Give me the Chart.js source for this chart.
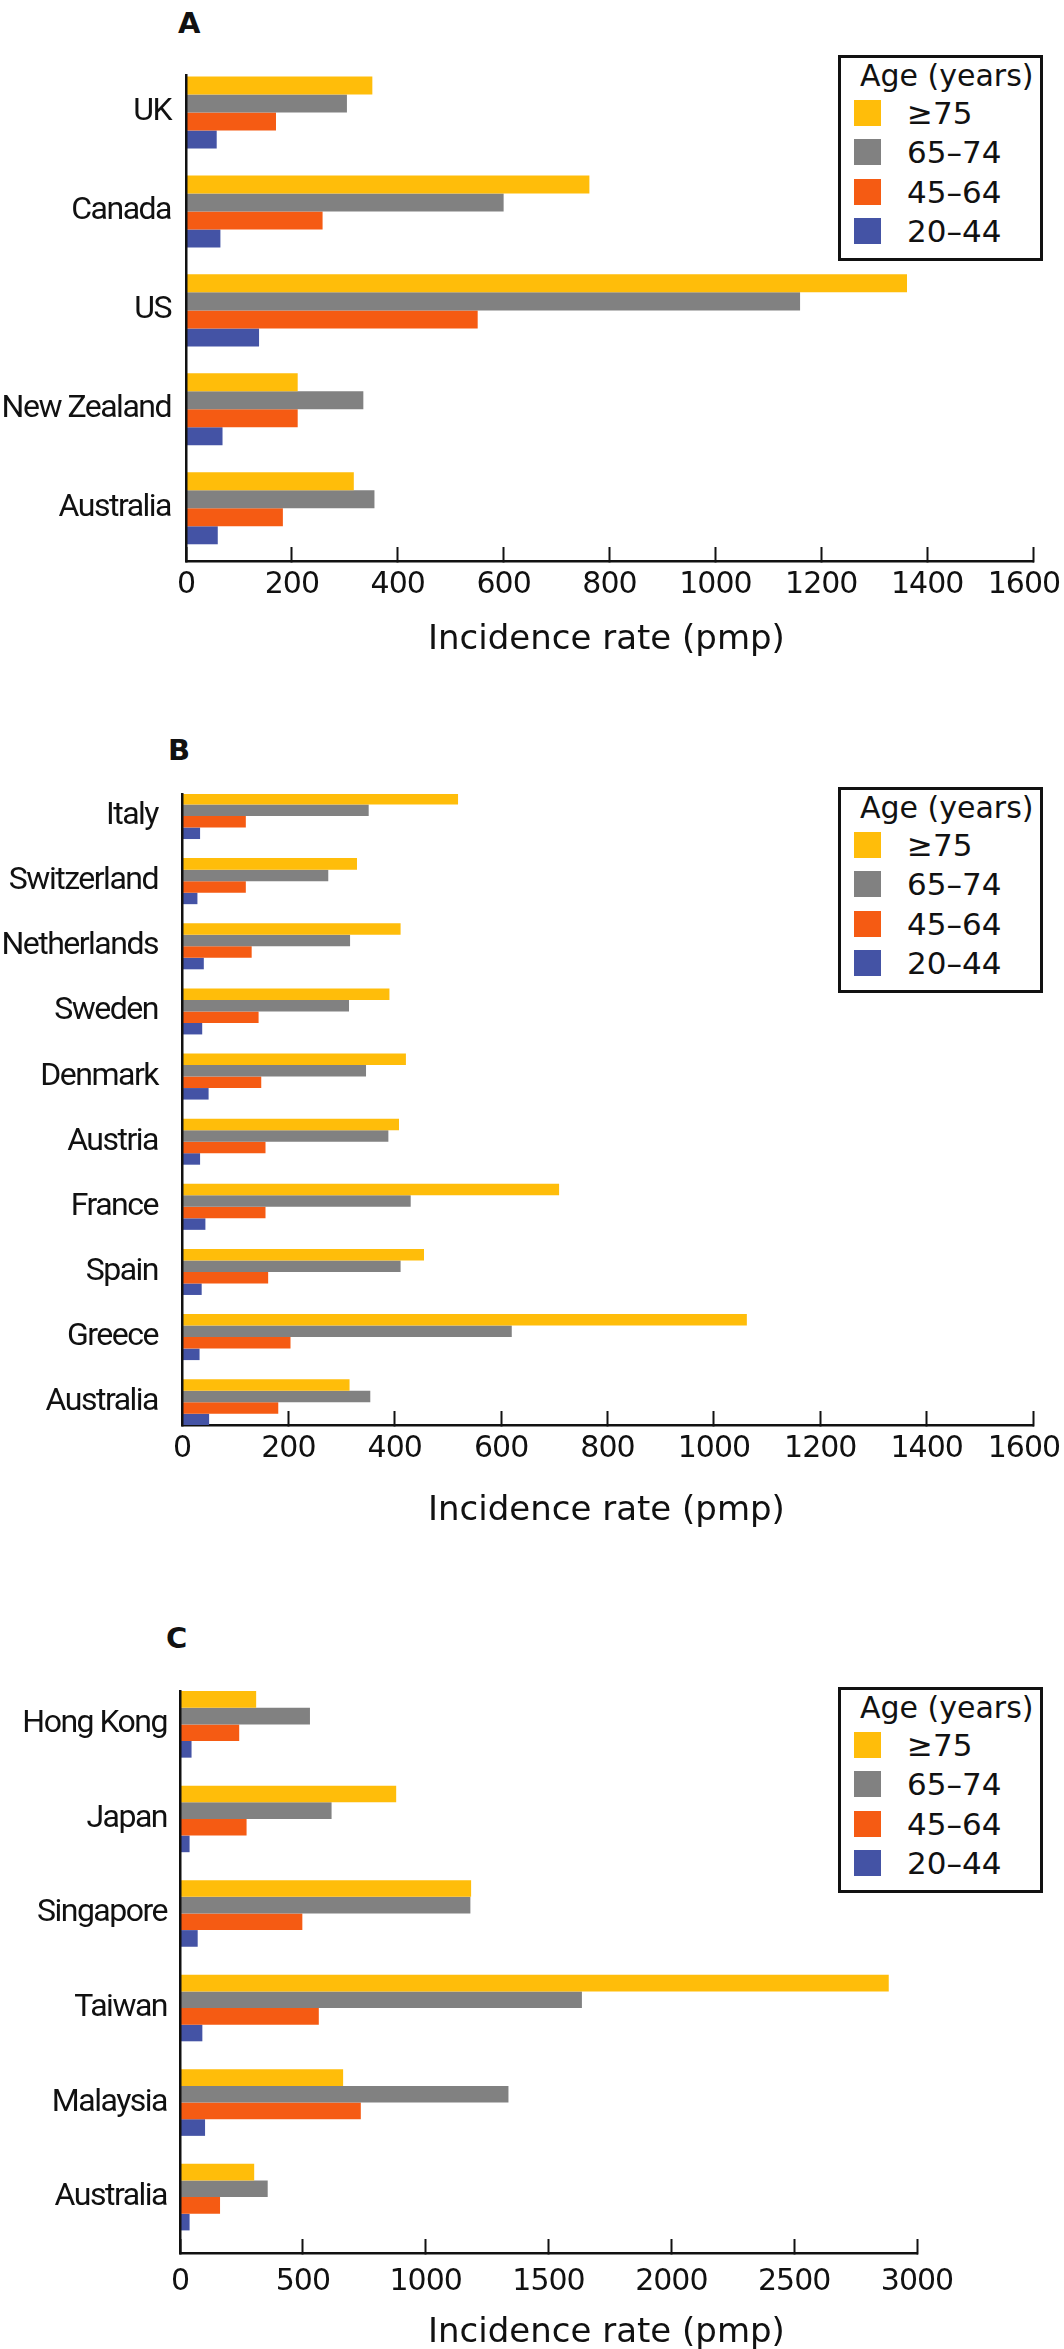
<!DOCTYPE html>
<html>
<head>
<meta charset="utf-8">
<script src="https://cdn.jsdelivr.net/npm/chart.js@4.4.1/dist/chart.umd.min.js"></script>
<style>
  body { margin: 0; background: #fff; }
  #page { position: relative; width: 1064px; height: 2349px; overflow: hidden;
          font-family: "DejaVu Sans", sans-serif; color: #111; }
  canvas { position: absolute; left: 0; }
  .letter { position: absolute; font-weight: bold; font-size: 29px; line-height: 29px; }
  .axis-title { position: absolute; left: 428px; font-size: 34px; line-height: 34px; white-space: nowrap; }
  .legend { position: absolute; left: 838px; width: 205px; height: 206px; box-sizing: border-box;
            border: 3px solid #111; padding-left: 13px; background: #fff; }
  .legend-title { font-size: 30px; line-height: 35px; height: 35px; margin-left: 6px; white-space: nowrap; }
  .legend-row { display: flex; align-items: center; height: 39.5px; font-size: 31px; }
  .swatch { width: 27px; height: 26px; margin-right: 26px; }
</style>
</head>
<body>
<div id="page">
  <div class="letter" style="left:178px; top:9px">A</div>
  <canvas id="chartA" width="1064" height="620" style="top:0px"></canvas>
  <div class="axis-title" style="top:620px">Incidence rate (pmp)</div>
  <div class="legend" id="legendA" style="top:55px"></div>

  <div class="letter" style="left:168px; top:736px">B</div>
  <canvas id="chartB" width="1064" height="800" style="top:700px"></canvas>
  <div class="axis-title" style="top:1491px">Incidence rate (pmp)</div>
  <div class="legend" id="legendB" style="top:787px"></div>

  <div class="letter" style="left:166px; top:1624px">C</div>
  <canvas id="chartC" width="1064" height="749" style="top:1600px"></canvas>
  <div class="axis-title" style="top:2313px">Incidence rate (pmp)</div>
  <div class="legend" id="legendC" style="top:1687px"></div>
</div>

<script>
// Age groups (legend order, top bar to bottom bar in each group)
const ageGroups = ["≥75", "65–74", "45–64", "20–44"];
const barColors = ["#ffbd0a", "#818181", "#f55b13", "#4453a5"];

// A: English-speaking countries
const countriesA = ["UK", "Canada", "US", "New Zealand", "Australia"];
const over75A = [352, 762, 1362, 211, 317];
const age65to74A = [304, 600, 1160, 335, 356];
const age45to64A = [170, 258, 551, 211, 183];
const age20to44A = [58, 65, 138, 69, 60];

// B: Europe
const countriesB = ["Italy", "Switzerland", "Netherlands", "Sweden", "Denmark",
  "Austria", "France", "Spain", "Greece", "Australia"];
const over75B = [519, 329, 411, 390, 421, 408, 709, 455, 1062, 315];
const age65to74B = [351, 275, 316, 314, 346, 388, 430, 411, 620, 354];
const age45to64B = [120, 120, 131, 144, 149, 157, 157, 162, 204, 181];
const age20to44B = [34, 29, 41, 38, 50, 34, 44, 37, 33, 51];

// C: Asia
const countriesC = ["Hong Kong", "Japan", "Singapore", "Taiwan", "Malaysia", "Australia"];
const over75C = [310, 880, 1185, 2885, 664, 302];
const age65to74C = [529, 617, 1182, 1636, 1337, 357];
const age45to64C = [241, 271, 498, 565, 736, 163];
const age20to44C = [47, 39, 72, 91, 102, 39];

// x axis ticks
const rateTicksAB = [0, 200, 400, 600, 800, 1000, 1200, 1400, 1600];
const rateTicksC = [0, 500, 1000, 1500, 2000, 2500, 3000];

// the original sets its labels tighter than the fonts here:
// x labels are drawn before the bars, category labels (ticks.z = 1) after them
const tightLabels = {
  id: "tightLabels",
  beforeDraw(chart) { chart.ctx.letterSpacing = "-1px"; },
  afterDatasetsDraw(chart) { chart.ctx.letterSpacing = "-1.5px"; },
  afterDraw(chart) { chart.ctx.letterSpacing = "0px"; }
};

function buildLegend(id) {
  const box = document.getElementById(id);
  let html = '<div class="legend-title">Age (years)</div>';
  ageGroups.forEach((age, k) => {
    html += '<div class="legend-row"><div class="swatch" style="background:' +
      barColors[k] + '"></div>' + age + "</div>";
  });
  box.innerHTML = html;
}

function makePanel(p) {
  const canvas = document.getElementById(p.id);
  const area = p.area;
  const last = p.ticks.length - 1;
  return new Chart(canvas, {
    type: "bar",
    data: {
      datasets: ageGroups.map((age, k) => ({
        label: age,
        data: p.series[k].map((v, i) => ({ x: v, y: i })),
        backgroundColor: barColors[k],
        borderWidth: 0,
        categoryPercentage: p.groupShare,
        barPercentage: 1
      }))
    },
    options: {
      indexAxis: "y",
      responsive: false,
      animation: false,
      layout: { padding: { left: 0, top: area.top, right: canvas.width - area.right, bottom: 0 } },
      plugins: { legend: { display: false }, tooltip: { enabled: false } },
      scales: {
        x: {
          type: "linear",
          position: "bottom",
          min: p.ticks[0],
          max: p.ticks[last],
          afterBuildTicks: (s) => { s.ticks = p.ticks.map((v) => ({ value: v })); },
          afterFit: (s) => {
            s.height = canvas.height - area.bottom;
            s.paddingLeft = 0;
            s.paddingRight = 0;
          },
          border: { color: "#111", width: 2.5 },
          grid: { drawOnChartArea: false, drawTicks: true, tickLength: -14, tickColor: "#111", tickWidth: 2 },
          ticks: {
            font: { family: "DejaVu Sans", size: 30, lineHeight: 1.2 },
            color: "#111",
            padding: p.tickPad,
            maxRotation: 0,
            autoSkip: false,
            // at the page edge the last label sits a little left of its tick
            callback: (v, i) => (p.pullLastLabel && i === last ? v + "\u2007" : String(v))
          }
        },
        y: {
          type: "linear",
          position: "left",
          reverse: true,
          offset: false,
          min: p.min,
          max: p.max,
          afterBuildTicks: (s) => { s.ticks = p.countries.map((_, i) => ({ value: i })); },
          afterFit: (s) => {
            s.width = area.left;
            s.paddingTop = 0;
            s.paddingBottom = 0;
          },
          border: { color: "#111", width: 2.5, z: 1 },
          grid: { display: false, drawTicks: false, offset: false },
          ticks: {
            font: { family: "Roboto", size: 32 },
            color: "#111",
            padding: p.labelPad,
            autoSkip: false,
            z: 1,
            callback: (v) => p.countries[v]
          }
        }
      }
    },
    plugins: [tightLabels]
  });
}

makePanel({
  id: "chartA",
  countries: countriesA,
  series: [over75A, age65to74A, age45to64A, age20to44A],
  ticks: rateTicksAB,
  area: { left: 186, right: 1033, top: 75, bottom: 561 },
  min: -0.379, max: 4.533,
  groupShare: 0.728,
  labelPad: 15,
  tickPad: 20,
  pullLastLabel: true
});

makePanel({
  id: "chartB",
  countries: countriesB,
  series: [over75B, age65to74B, age45to64B, age20to44B],
  ticks: rateTicksAB,
  area: { left: 182, right: 1033, top: 94, bottom: 725 },
  min: -0.338, max: 9.35,
  groupShare: 0.707,
  labelPad: 24,
  tickPad: 20,
  pullLastLabel: true
});

makePanel({
  id: "chartC",
  countries: countriesC,
  series: [over75C, age65to74C, age45to64C, age20to44C],
  ticks: rateTicksC,
  area: { left: 180, right: 917, top: 91, bottom: 653 },
  min: -0.353, max: 5.591,
  groupShare: 0.704,
  labelPad: 13,
  tickPad: 25,
  pullLastLabel: false
});

buildLegend("legendA");
buildLegend("legendB");
buildLegend("legendC");
</script>
</body>
</html>
